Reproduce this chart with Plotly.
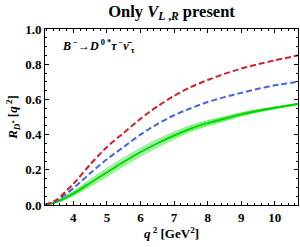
import plotly.graph_objects as go

q2 = [3.157, 3.5, 4.0, 4.5, 5.0, 5.5, 6.0, 6.5, 7.0, 7.5, 8.0, 8.5, 9.0, 9.5, 10.0, 10.69]
red = [0.0, 0.03, 0.12, 0.23, 0.33, 0.41, 0.49, 0.56, 0.62, 0.67, 0.71, 0.745, 0.775, 0.80, 0.822, 0.85]
blue = [0.0, 0.025, 0.095, 0.18, 0.26, 0.33, 0.40, 0.46, 0.51, 0.55, 0.585, 0.613, 0.637, 0.66, 0.68, 0.70]
green_c = [0.0, 0.018, 0.065, 0.125, 0.185, 0.245, 0.30, 0.35, 0.395, 0.435, 0.465, 0.49, 0.515, 0.535, 0.552, 0.574]
green_u = [0.0, 0.023, 0.076, 0.143, 0.207, 0.267, 0.322, 0.371, 0.414, 0.451, 0.479, 0.502, 0.524, 0.542, 0.557, 0.577]
green_um = [0.0, 0.021, 0.071, 0.135, 0.197, 0.257, 0.312, 0.361, 0.405, 0.444, 0.473, 0.497, 0.520, 0.539, 0.555, 0.576]
green_lm = [0.0, 0.015, 0.059, 0.115, 0.173, 0.233, 0.288, 0.339, 0.385, 0.426, 0.457, 0.483, 0.510, 0.531, 0.549, 0.572]
green_l = [0.0, 0.013, 0.054, 0.107, 0.163, 0.223, 0.278, 0.329, 0.376, 0.419, 0.451, 0.478, 0.506, 0.528, 0.547, 0.571]

SERIF = "Liberation Serif"

fig = go.Figure()
for g in [green_u, green_um, green_lm, green_l]:
    fig.add_trace(go.Scatter(x=q2, y=g, mode="lines", line=dict(color="rgb(50,235,50)", width=0.8, shape="spline", smoothing=0.8)))
fig.add_trace(go.Scatter(x=q2, y=green_c, mode="lines", line=dict(color="rgb(0,215,0)", width=2, shape="spline", smoothing=0.8)))
fig.add_trace(go.Scatter(x=q2, y=blue, mode="lines", line=dict(color="rgb(70,100,220)", width=2, dash="6px,3px", shape="spline", smoothing=0.8)))
fig.add_trace(go.Scatter(x=q2, y=red, mode="lines", line=dict(color="rgb(215,30,40)", width=2, dash="6px,3px", shape="spline", smoothing=0.8)))

axfont = dict(family=SERIF, size=13, color="black", weight="bold")
common = dict(showline=True, linecolor="black", linewidth=1, mirror="ticks", ticks="inside",
              ticklen=4, tickcolor="black", showgrid=False, zeroline=False, tickfont=axfont, automargin=False)
fig.update_layout(
    width=300, height=247, showlegend=False,
    margin=dict(l=45, r=2, t=29, b=42, autoexpand=False),
    plot_bgcolor="white", paper_bgcolor="white",
    font=dict(family=SERIF),
    title=dict(text="<b>Only <i>V</i><sub><i>L</i> ,<i>R</i></sub> present</b>", xref="paper", x=0.5, xanchor="center",
               y=0.955, yanchor="middle", automargin=False,
               font=dict(family=SERIF, size=16.5, color="black")),
    xaxis=dict(range=[3.157, 10.69], dtick=1, tick0=0, tickformat="d",
               minor=dict(dtick=0.2, ticks="inside", ticklen=2, tickcolor="black"),
               title=dict(text="<b><i>q</i><sup> 2</sup> [GeV<sup>2</sup>]</b>", font=dict(family=SERIF, size=13, color="black"), standoff=4),
               **common),
    yaxis=dict(range=[0, 1.0], dtick=0.2, tickformat=".1f",
               minor=dict(dtick=0.05, ticks="inside", ticklen=2, tickcolor="black"),
               title=dict(text="<b><i>R</i><sub><i>D</i><sup>*</sup></sub> [<i>q</i><sup> 2</sup>]</b>", font=dict(family=SERIF, size=13, color="black"), standoff=4),
               **common),
)
fig.add_annotation(x=0.06, y=0.9, xref="paper", yref="paper", xanchor="left", yanchor="middle", showarrow=False,
                   text="<b><i>B</i><sup> −</sup>→<i>D</i><sup> 0 *</sup><i>τ</i><sup> −</sup><i>ν̄</i><sub> τ</sub></b>",
                   font=dict(family=SERIF, size=12, color="black"))
fig.write_html("out.html", config={"displayModeBar": False}, post_script="document.body.style.margin='0';")
